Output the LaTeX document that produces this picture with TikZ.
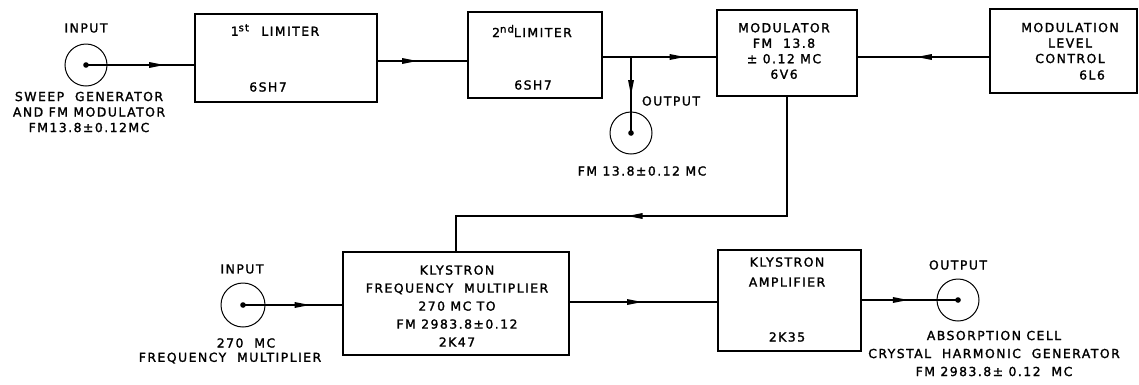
\documentclass[tikz,border=0pt]{standalone}
\usepackage{fontspec}
\setmainfont{DejaVu Sans}[LetterSpace=12,FakeBold=1.6]
\usetikzlibrary{decorations.markings}
\newcommand{\supx}[1]{\raisebox{4.5pt}{\fontsize{10}{10}\selectfont #1}}
\begin{document}
\begin{tikzpicture}[x=1pt,y=-1pt,
  blk/.style={draw, line width=1.2pt, inner sep=0pt},
  jack/.style={draw, circle, line width=1pt, inner sep=0pt, minimum size=42pt},
  conn/.style={line width=1.2pt},
  midarrow/.style={postaction={decorate}, decoration={markings,
      mark=at position #1 with {\fill (-15pt,-3pt) -- (0pt,0pt) -- (-15pt,3pt) -- cycle;}}},
  lbl/.style={inner sep=0pt, align=center, font=\fontsize{12.4}{15.5}\selectfont},
  lblw/.style={inner sep=0pt, align=center, font=\fontsize{12.4}{18}\selectfont}
]
\useasboundingbox (0,0) rectangle (1139,384);

% row coordinates
\coordinate (ya) at (0,65);
\coordinate (yb) at (0,61);
\coordinate (yc) at (0,57);
\coordinate (fb) at (0,216);
\coordinate (yd) at (0,302);

% boxes
\node[blk, minimum width=182pt, minimum height=88pt] (l1) at (286,58) {};
\node[blk, minimum width=134pt, minimum height=86pt] (l2) at (535,55) {};
\node[blk, minimum width=140pt, minimum height=86pt] (mod) at (787,53) {};
\node[blk, minimum width=147pt, minimum height=84pt] (mlc) at (1063.5,51) {};
\node[blk, minimum width=226pt, minimum height=103pt] (kfm) at (456,303.5) {};
\node[blk, minimum width=143pt, minimum height=101pt] (amp) at (789.5,300.5) {};

% jacks
\node[jack] (in1) at (86,65) {};
\node[jack] (out1) at (631,133) {};
\node[jack, minimum size=44pt] (in2) at (243,305) {};
\node[jack] (out2) at (958,300) {};
\foreach \j in {in1,out1,in2,out2} \fill (\j.center) circle (2.8pt);

% box texts
\node[lbl] (t1) at (275,30) {1\supx{st}\quad LIMITER};
\node[lbl] (t1b) at (268,87) {6SH7};
\node[lbl] (t2) at (532,31) {2\supx{nd}LIMITER};
\node[lbl] (t2b) at (533,85) {6SH7};
\node[lbl] (tm) at (784,51) {MODULATOR\\FM\ \ 13.8\\± 0.12 MC\\6V6};
\node[lbl] (tc) at (1070,43) {MODULATION\\LEVEL\\CONTROL};
\node[lbl] (tcb) at (1092,75) {6L6};
\node[lblw] (tk) at (457,306) {KLYSTRON\\FREQUENCY\ \ MULTIPLIER\\270\ MC TO\\FM 2983.8±0.12\\2K47};
\node[inner sep=0pt, align=center, font=\fontsize{12.4}{20}\selectfont] (ta) at (787,272) {KLYSTRON\\AMPLIFIER};
\node[lbl] (tab) at (787,337) {2K35};

% jack texts
\node[lbl] (i1t) at (86,28) {INPUT};
\node[lbl] (i1b) at (89,112) {SWEEP\ \ GENERATOR\\AND FM MODULATOR\\FM13.8±0.12MC};
\node[lbl] (o1t) at (671,101) {OUTPUT};
\node[lbl] (o1b) at (642,171) {FM 13.8±0.12 MC};
\node[lbl] (i2t) at (242,269) {INPUT};
\node[lbl] (i2b) at (246,343) {270\ \ MC};
\node[lbl] (i2c) at (230,358) {FREQUENCY\ \ MULTIPLIER};
\node[lbl] (o2t) at (958,265) {OUTPUT};
\node[lblw] (o2b) at (994,353.5) {ABSORPTION CELL\\CRYSTAL\ \ HARMONIC\ \ GENERATOR\\FM 2983.8± 0.12\ \ MC};

% connectors
\draw[conn, midarrow=0.72] (in1.center) -- (l1.west |- in1.center);
\draw[conn, midarrow=0.44] (l1.east |- yb) -- (l2.west |- yb);
\draw[conn, midarrow=0.72] (l2.east |- yc) -- (mod.west |- yc);
\draw[conn, midarrow=0.5] (out1.center |- yc) -- (out1.center);
\draw[conn, midarrow=0.55] (mlc.west |- yc) -- (mod.east |- yc);
\draw[conn, midarrow=0.574] (mod.south) -- (mod.south |- fb) -- (kfm.north |- fb) -- (kfm.north);
\draw[conn, midarrow=0.67] (in2.center) -- (kfm.west |- in2.center);
\draw[conn, midarrow=0.49] (kfm.east |- yd) -- (amp.west |- yd);
\draw[conn, midarrow=0.48] (amp.east |- out2.center) -- (out2.center);
\end{tikzpicture}
\end{document}
